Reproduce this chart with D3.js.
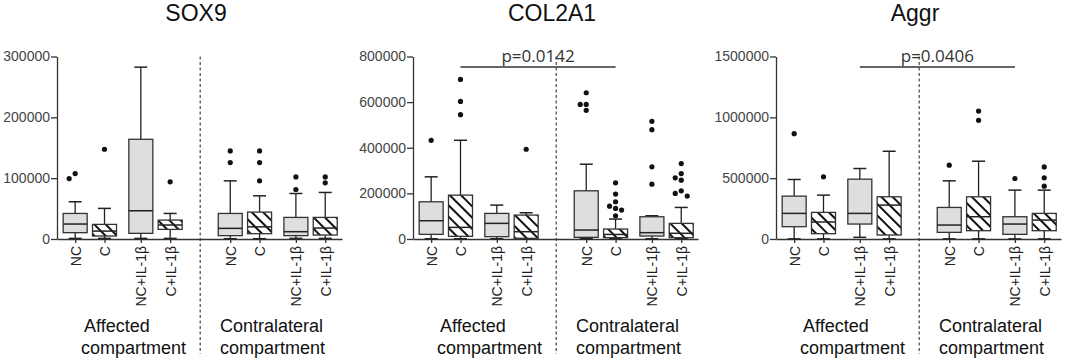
<!DOCTYPE html>
<html lang="en">
<head>
<meta charset="UTF-8">
<title>SOX9 / COL2A1 / Aggr box plots</title>
<script src="https://cdn.jsdelivr.net/npm/d3@7"></script>
<style>
  body { margin: 0; background: #fff; }
  svg text { font-family: "Liberation Sans", Arial, sans-serif; }
</style>
</head>
<body>
<svg id="chart" width="1065" height="364"></svg>
<script>
// ---- data ----
const categories = ["NC", "C", "NC+IL-1β", "C+IL-1β", "NC", "C", "NC+IL-1β", "C+IL-1β"];
const compartmentLabels = [["Affected", "compartment"], ["Contralateral", "compartment"]];
const panelTitles = ["SOX9", "COL2A1", "Aggr"];

const sox9Ticks = [0, 100000, 200000, 300000];
const sox9Low    = [1000, 1000, 1000, 1000, 500, 500, 1000, 1000];
const sox9Q1     = [10400, 4900, 9300, 15800, 5500, 8700, 5500, 6500];
const sox9Median = [24600, 13000, 46400, 23000, 17500, 20000, 12000, 18000];
const sox9Q3     = [42000, 24000, 163900, 31100, 42000, 44200, 35500, 35500];
const sox9High   = [61200, 50300, 282500, 42000, 95600, 71000, 74800, 76500];
const sox9Outliers = [[107600, 99400], [147500], [], [94000], [144800, 125600],
  [144800, 125600, 95600], [102100, 81400], [102100, 92300]];

const col2a1Ticks = [0, 200000, 400000, 600000, 800000];
const col2a1Low    = [1000, 1000, 1000, 1000, 1000, 1000, 1000, 1000];
const col2a1Q1     = [20400, 11700, 10200, 3000, 7300, 5800, 13000, 5800];
const col2a1Median = [80100, 51000, 68500, 32000, 39300, 20000, 27700, 25000];
const col2a1Q3     = [163200, 192300, 112200, 104900, 211300, 43700, 97600, 68500];
const col2a1High   = [272500, 432700, 148600, 115100, 327800, 87400, 102000, 138400];
const col2a1Outliers = [[432700], [699400, 603200, 544900], [], [393400],
  [641100, 590000, 590000, 563900],
  [246200, 197000, 163200, 144000, 134000, 127000, 102000],
  [515800, 479300, 316200, 240400],
  [330700, 287000, 268000, 257900, 211300, 200000, 188000]];
const col2a1P = { text: "p=0.0142", from: 1, to: 5 };

const aggrTicks = [0, 500000, 1000000, 1500000];
const aggrLow    = [1000, 1000, 13700, 1000, 1000, 1000, 1000, 1000];
const aggrQ1     = [101100, 43700, 122900, 32800, 54600, 68300, 38200, 68300];
const aggrMedian = [210400, 140000, 210400, 278700, 114700, 183000, 122900, 155700];
const aggrQ3     = [352400, 218600, 491800, 347000, 259500, 347000, 183000, 210400];
const aggrHigh   = [489000, 360600, 579200, 721200, 478100, 639300, 401600, 401600];
const aggrOutliers = [[866000], [510900], [], [], [606500], [1051800, 975300],
  [497200], [592800, 502700, 434400]];
const aggrP = { text: "p=0.0406", from: 2, to: 6 };

// ---- layout ----
const panels = [
  { title: panelTitles[0], left: 57,  ticks: sox9Ticks, low: sox9Low, q1: sox9Q1, med: sox9Median, q3: sox9Q3, high: sox9High, out: sox9Outliers, p: null },
  { title: panelTitles[1], left: 413, ticks: col2a1Ticks, low: col2a1Low, q1: col2a1Q1, med: col2a1Median, q3: col2a1Q3, high: col2a1High, out: col2a1Outliers, p: col2a1P },
  { title: panelTitles[2], left: 776, ticks: aggrTicks, low: aggrLow, q1: aggrQ1, med: aggrMedian, q3: aggrQ3, high: aggrHigh, out: aggrOutliers, p: aggrP }
];
const plotW = 285, yBottom = 239, yTop = 56.5;
const boxW = 24, capW = 13, dotR = 2.6;

// slot of each category: compartment, pair, member
const pos = categories.map((c, i) => Math.floor(i / 4) * 5.55 + Math.floor((i % 4) / 2) * 2.35 + (i % 2) * 1.05);
const dividerPos = (pos[3] + pos[4]) / 2;

const svg = d3.select("#chart");
svg.append("rect").attr("width", 1065).attr("height", 364).attr("fill", "#fff");

const defs = svg.append("defs");
const pat = defs.append("pattern")
  .attr("id", "hatch")
  .attr("patternUnits", "userSpaceOnUse")
  .attr("width", 8).attr("height", 8)
  .attr("patternTransform", "rotate(-45)");
pat.append("rect").attr("width", 8).attr("height", 8).attr("fill", "#fff");
pat.append("line").attr("x1", 4).attr("y1", 0).attr("x2", 4).attr("y2", 8)
  .attr("stroke", "#111").attr("stroke-width", 2);

panels.forEach(p => {
  const g = svg.append("g");
  const x = d3.scaleLinear().domain([-0.65, 9.55]).range([p.left, p.left + plotW]);
  const y = d3.scaleLinear().domain([0, d3.max(p.ticks)]).range([yBottom, yTop]);

  // title
  g.append("text")
    .attr("x", p.left + 139).attr("y", 21)
    .attr("text-anchor", "middle")
    .attr("font-size", 23).attr("fill", "#111")
    .text(p.title);

  // divider
  g.append("line")
    .attr("x1", x(dividerPos)).attr("x2", x(dividerPos))
    .attr("y1", yTop).attr("y2", 354)
    .attr("stroke", "#444").attr("stroke-width", 1.2)
    .attr("stroke-dasharray", "3,2.5");

  // y axis
  const ya = g.append("g")
    .attr("transform", `translate(${p.left},0)`)
    .call(d3.axisLeft(y).tickValues(p.ticks).tickSize(6).tickSizeOuter(0).tickPadding(1).tickFormat(d3.format("d")));
  ya.select(".domain").attr("stroke", "#333").attr("stroke-width", 1.3);
  ya.selectAll(".tick line").attr("stroke", "#333").attr("stroke-width", 1.3);
  ya.selectAll(".tick text").attr("font-size", 14).attr("fill", "#444")
    .attr("font-family", "'Liberation Sans', Arial, sans-serif");

  // x axis
  const xa = g.append("g")
    .attr("transform", `translate(0,${yBottom})`)
    .call(d3.axisBottom(x).tickValues(pos).tickSize(4).tickSizeOuter(0).tickFormat((d, i) => categories[i]));
  xa.select(".domain").attr("stroke", "#333").attr("stroke-width", 1.3);
  xa.selectAll(".tick line").attr("stroke", "#333").attr("stroke-width", 1.3);
  xa.selectAll(".tick text")
    .attr("transform", "rotate(-90)")
    .attr("text-anchor", "end")
    .attr("x", -7).attr("y", 0).attr("dy", "0.35em")
    .attr("font-size", 14).attr("fill", "#222")
    .attr("font-family", "'Liberation Sans', Arial, sans-serif");

  // boxes
  categories.forEach((c, i) => {
    const cx = x(pos[i]);
    const hatched = c.startsWith("C");
    const b = g.append("g");
    b.append("line").attr("x1", cx).attr("x2", cx).attr("y1", y(p.q3[i])).attr("y2", y(p.high[i]))
      .attr("stroke", "#222").attr("stroke-width", 1.3);
    b.append("line").attr("x1", cx).attr("x2", cx).attr("y1", y(p.q1[i])).attr("y2", y(p.low[i]))
      .attr("stroke", "#222").attr("stroke-width", 1.3);
    [p.high[i], p.low[i]].forEach(v => {
      b.append("line").attr("x1", cx - capW / 2).attr("x2", cx + capW / 2)
        .attr("y1", y(v)).attr("y2", y(v))
        .attr("stroke", "#222").attr("stroke-width", 1.5);
    });
    b.append("rect")
      .attr("x", cx - boxW / 2).attr("width", boxW)
      .attr("y", y(p.q3[i])).attr("height", y(p.q1[i]) - y(p.q3[i]))
      .attr("fill", hatched ? "url(#hatch)" : "#dedede")
      .attr("stroke", "#333").attr("stroke-width", 1.3);
    b.append("line").attr("x1", cx - boxW / 2).attr("x2", cx + boxW / 2)
      .attr("y1", y(p.med[i])).attr("y2", y(p.med[i]))
      .attr("stroke", "#222").attr("stroke-width", 1.5);

    // outliers, nudged sideways when they would overlap
    const placed = [];
    p.out[i].slice().sort((a, b) => b - a).forEach(v => {
      const py = y(v);
      const dx = [0, -6, 6, -12, 12].find(o => !placed.some(q => q.dx === o && Math.abs(q.py - py) < 5.5));
      placed.push({ dx, py });
      b.append("circle").attr("cx", cx + dx).attr("cy", py).attr("r", dotR).attr("fill", "#111");
    });
  });

  // compartment labels
  const labelX = [[27, 24], [163, 163]];
  compartmentLabels.forEach((lines, k) => {
    lines.forEach((t, j) => {
      g.append("text")
        .attr("x", p.left + labelX[k][j]).attr("y", 332 + j * 21.5)
        .attr("font-size", 18).attr("fill", "#111")
        .text(t);
    });
  });

  // significance bar
  if (p.p) {
    const x1 = x(pos[p.p.from]), x2 = x(pos[p.p.to]);
    g.append("line").attr("x1", x1).attr("x2", x2).attr("y1", 67).attr("y2", 67)
      .attr("stroke", "#333").attr("stroke-width", 1.3);
    g.append("text")
      .attr("x", (x1 + x2) / 2).attr("y", 62)
      .attr("text-anchor", "middle")
      .attr("font-size", 17).attr("fill", "#333")
      .style("font-family", "'Open Sans', sans-serif")
      .text(p.p.text);
  }
});
</script>
</body>
</html>
